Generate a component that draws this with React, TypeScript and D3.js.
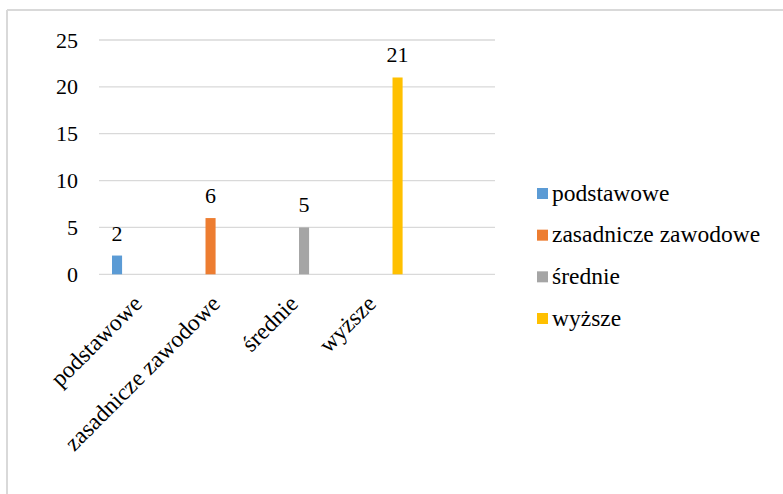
import React from "react";
import * as d3 from "d3";

const categories = ["podstawowe", "zasadnicze zawodowe", "średnie", "wyższe"];
const seriesNames = ["podstawowe", "zasadnicze zawodowe", "średnie", "wyższe"];
const values = [2, 6, 5, 21];
const colors = ["#5B9BD5", "#ED7D31", "#A5A5A5", "#FFC000"];
const yTicks = [0, 5, 10, 15, 20, 25];

const W = 783;
const H = 494;

export default function App() {
  const y = d3.scaleLinear().domain([0, 25]).range([274.3, 40]);
  const x = d3.scaleBand<string>().domain(categories).range([101.3, 413.3]).paddingInner(0).paddingOuter(0);
  const xs = d3
    .scaleBand<string>()
    .domain(seriesNames)
    .range([0, x.bandwidth()])
    .paddingInner(0.35)
    .paddingOuter(0.69);
  const gridX0 = 99;
  const gridX1 = 495;
  const legendY = d3.scalePoint<string>().domain(seriesNames).range([193.5, 318.5]);

  return (
    <div style={{ position: "absolute", left: 0, top: 0, width: W, height: H }}>
      <svg width={W} height={H} className="chart">
        <style>{`.chart text { font-family: "Liberation Serif", "Times New Roman", Tinos, serif !important; }`}</style>
        <rect x={0} y={0} width={W} height={H} fill="#fff" />
        {/* outer frame */}
        <line x1={7} y1={10} x2={W} y2={10} stroke="#D9D9D9" strokeWidth={2} />
        <line x1={7} y1={10} x2={7} y2={H} stroke="#D9D9D9" strokeWidth={2} />

        {/* gridlines */}
        {yTicks.map((t) => (
          <line
            key={t}
            x1={gridX0}
            x2={gridX1}
            y1={y(t)}
            y2={y(t)}
            stroke="#D9D9D9"
            strokeWidth={1.3}
          />
        ))}
        {/* y tick labels */}
        {yTicks.map((t) => (
          <text
            key={"l" + t}
            x={78}
            y={y(t) + 7.5}
            textAnchor="end"
            fontFamily="Times New Roman"
            fontSize={22}
            fill="#000"
          >
            {t}
          </text>
        ))}

        {/* bars */}
        {categories.map((c, i) => {
          const bx = (x(c) as number) + (xs(seriesNames[i]) as number);
          const bw = xs.bandwidth();
          return (
            <g key={c}>
              <rect
                x={bx}
                y={y(values[i])}
                width={bw}
                height={y(0) - y(values[i])}
                fill={colors[i]}
              />
              <text
                x={bx + bw / 2}
                y={y(values[i]) - 15}
                textAnchor="middle"
                fontFamily="Times New Roman"
                fontSize={22}
                fill="#000"
              >
                {values[i]}
              </text>
            </g>
          );
        })}

        {/* x labels */}
        {categories.map((c) => {
          const cx = (x(c) as number) + x.bandwidth() / 2 + 3;
          return (
            <text
              key={"x" + c}
              transform={`translate(${cx},305) rotate(-45)`}
              textAnchor="end"
              fontFamily="Times New Roman"
              fontSize={23.5}
              fill="#000"
            >
              {c}
            </text>
          );
        })}

        {/* legend */}
        {seriesNames.map((s, i) => {
          const cy = legendY(s) as number;
          return (
            <g key={"lg" + s}>
              <rect x={537} y={cy - 5.5} width={11} height={11} fill={colors[i]} />
              <text x={552} y={cy + 7} fontFamily="Times New Roman" fontSize={23.5} fill="#000">
                {s}
              </text>
            </g>
          );
        })}
      </svg>
    </div>
  );
}
